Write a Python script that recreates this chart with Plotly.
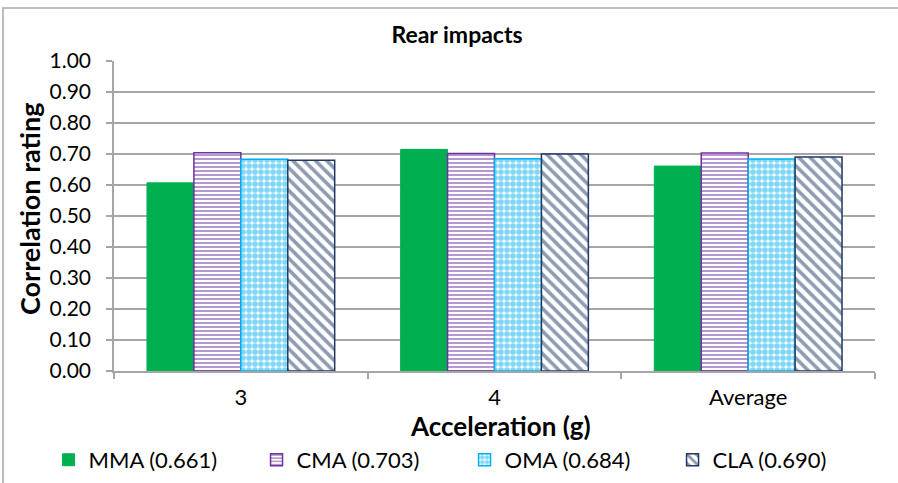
import plotly.graph_objects as go

categories = ["3", "4", "Average"]
series_names = ["MMA (0.661)", "CMA (0.703)", "OMA (0.684)", "CLA (0.690)"]
mma = [0.607, 0.715, 0.661]
cma = [0.704, 0.702, 0.703]
oma = [0.683, 0.685, 0.684]
cla = [0.680, 0.700, 0.690]
y_ticks = [0.0, 0.1, 0.2, 0.3, 0.4, 0.5, 0.6, 0.7, 0.8, 0.9, 1.0]

FONT = "Lato"
fig = go.Figure()

fig.add_trace(go.Bar(x=categories, y=mma, name=series_names[0],
                     marker=dict(color="#00B050", line=dict(color="#00B050", width=1))))
fig.add_trace(go.Bar(x=categories, y=cma, name=series_names[1],
                     marker=dict(color="#7030A0",
                                 line=dict(color="#7030A0", width=1.5),
                                 pattern=dict(shape="-", fgcolor="#7030A0", bgcolor="#FFFFFF",
                                              size=4, solidity=0.5))))
fig.add_trace(go.Bar(x=categories, y=oma, name=series_names[2],
                     marker=dict(color="#00B0F0",
                                 line=dict(color="#00B0F0", width=1.5),
                                 pattern=dict(shape=".", fgcolor="#00B0F0", bgcolor="#FFFFFF",
                                              size=6, solidity=0.7))))
fig.add_trace(go.Bar(x=categories, y=cla, name=series_names[3],
                     marker=dict(color="#1F3864",
                                 line=dict(color="#1F3864", width=1.5),
                                 pattern=dict(shape="\\", fgcolor="#1F3864", bgcolor="#FFFFFF",
                                              size=8, solidity=0.45))))

fig.update_layout(
    width=898, height=483,
    margin=dict(l=114, r=23, t=61, b=112, autoexpand=False),
    paper_bgcolor="white", plot_bgcolor="white",
    font=dict(family=FONT, color="#000000", size=21),
    barmode="group", bargap=0.26, bargroupgap=0,
    title=dict(text="<b>Rear impacts</b>", x=457/898, xanchor="center",
               y=1 - 35/483, yanchor="middle", yref="container",
               font=dict(family=FONT, size=23, color="#000000")),
    showlegend=True,
    legend=dict(orientation="h", x=-0.086, xanchor="left", y=-0.287, yanchor="middle",
                entrywidth=163, entrywidthmode="pixels",
                font=dict(family=FONT, size=22, color="#000000"),
                itemwidth=30, traceorder="normal", bgcolor="rgba(0,0,0,0)"),
    xaxis=dict(type="category", showline=True, linecolor="#A6A6A6", linewidth=1.5,
               ticks="outside", tickson="boundaries", ticklen=6, tickcolor="#A6A6A6",
               tickwidth=1.5, showgrid=False, tickfont=dict(size=22),
               ticklabelstandoff=6, automargin=False),
    yaxis=dict(range=[0, 1.0], tickvals=y_ticks, tickformat=".2f",
               showgrid=True, gridcolor="#A6A6A6", gridwidth=1.5,
               showline=True, linecolor="#A6A6A6", linewidth=1.5,
               ticks="outside", ticklen=6, tickcolor="#A6A6A6", tickwidth=1.5,
               tickfont=dict(size=21), ticklabelstandoff=11, zeroline=False,
               automargin=False),
    annotations=[
        dict(text="<b>Acceleration (g)</b>", xref="paper", yref="paper",
             x=(500 - 114) / 761, y=(371 - 426) / 310, xanchor="center", yanchor="middle",
             showarrow=False, font=dict(family=FONT, size=26, color="#000000")),
        dict(text="<b>Correlation rating</b>", xref="paper", yref="paper",
             x=(29 - 114) / 761, y=(371 - 209) / 310, xanchor="center", yanchor="middle",
             textangle=-90, showarrow=False, font=dict(family=FONT, size=27, color="#000000")),
    ],
    shapes=[
        dict(type="rect", xref="paper", yref="paper",
             x0=(3 - 114) / 761, x1=(905 - 114) / 761,
             y0=(371 - 490) / 310, y1=(371 - 8) / 310,
             line=dict(color="#A6A6A6", width=1.5), fillcolor="rgba(0,0,0,0)", layer="below"),
    ],
)

fig.write_html("out.html")
